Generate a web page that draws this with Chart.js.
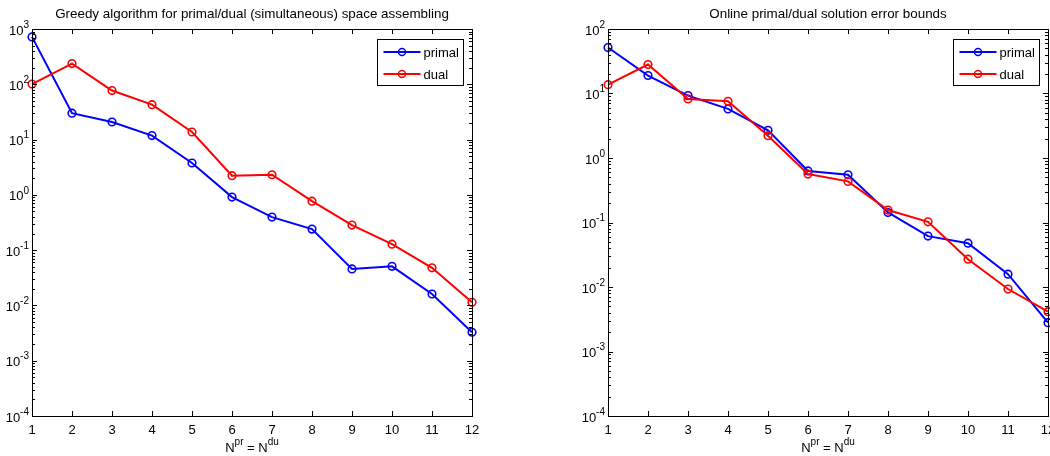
<!DOCTYPE html>
<html>
<head>
<meta charset="utf-8">
<script src="https://cdn.jsdelivr.net/npm/chart.js@4"></script>
<style>
  html, body { margin: 0; padding: 0; background: #fff; overflow: hidden; width: 1050px; height: 456px; }
  .box { position: absolute; top: 0; }
</style>
</head>
<body>
<div class="box" style="left:0px"><canvas id="greedy" width="540" height="456"></canvas></div>
<div class="box" style="left:560px"><canvas id="online" width="560" height="456"></canvas></div>
<script>
// N^pr = N^du
const nValues = [1, 2, 3, 4, 5, 6, 7, 8, 9, 10, 11, 12];

// left plot: greedy space assembling
const greedyPrimal = [720, 30, 20.8, 11.8, 3.77, 0.91, 0.396, 0.24, 0.0458, 0.051, 0.0161, 0.00327];
const greedyDual = [101, 237, 77, 42.8, 13.7, 2.22, 2.31, 0.77, 0.284, 0.128, 0.0478, 0.0114];

// right plot: online error bounds
const onlinePrimal = [51.6, 19, 9.27, 5.77, 2.69, 0.63, 0.55, 0.143, 0.0615, 0.0478, 0.0158, 0.0028];
const onlineDual = [13.7, 28.1, 8.24, 7.57, 2.22, 0.564, 0.434, 0.156, 0.1025, 0.027, 0.0093, 0.00415];

const xTicks = [1, 2, 3, 4, 5, 6, 7, 8, 9, 10, 11, 12];
const greedyExps = [-4, -3, -2, -1, 0, 1, 2, 3];
const onlineExps = [-4, -3, -2, -1, 0, 1, 2];

const FONT = '"Liberation Sans", Arial, Helvetica, sans-serif';

// draw text made of normal + superscript pieces
function drawParts(ctx, parts, x, y, align) {
  let w = 0;
  parts.forEach(p => {
    ctx.font = (p.sup ? 10 : 13) + 'px ' + FONT;
    p.w = ctx.measureText(p.t).width;
    w += p.w;
  });
  let cx = align === 'right' ? x - w : (align === 'center' ? x - w / 2 : x);
  ctx.textAlign = 'left';
  ctx.textBaseline = 'middle';
  parts.forEach(p => {
    ctx.font = (p.sup ? 10 : 13) + 'px ' + FONT;
    ctx.fillText(p.t, cx, p.sup ? y - 6 : y);
    cx += p.w;
  });
}

const matlabAxes = {
  id: 'matlabAxes',
  afterDatasetsDraw(chart, args, opts) {
    const ctx = chart.ctx;
    const a = chart.chartArea;
    const xs = chart.scales.x;
    const ys = chart.scales.y;
    ctx.save();
    ctx.strokeStyle = '#000';
    ctx.fillStyle = '#000';
    ctx.lineWidth = 1;

    // box
    ctx.strokeRect(Math.round(a.left) + 0.5, Math.round(a.top) + 0.5,
      Math.round(a.right - a.left), Math.round(a.bottom - a.top));

    ctx.beginPath();
    // x ticks, top and bottom, inward
    xTicks.forEach(v => {
      const px = Math.round(xs.getPixelForValue(v)) + 0.5;
      ctx.moveTo(px, a.bottom); ctx.lineTo(px, a.bottom - 5);
      ctx.moveTo(px, a.top); ctx.lineTo(px, a.top + 5);
    });
    // y ticks, major and minor, left and right
    const exps = opts.exps;
    exps.forEach((e, i) => {
      const py = Math.round(ys.getPixelForValue(Math.pow(10, e))) + 0.5;
      ctx.moveTo(a.left, py); ctx.lineTo(a.left + 5, py);
      ctx.moveTo(a.right, py); ctx.lineTo(a.right - 5, py);
      if (i < exps.length - 1) {
        for (let k = 2; k <= 9; k++) {
          const my = Math.round(ys.getPixelForValue(k * Math.pow(10, e))) + 0.5;
          ctx.moveTo(a.left, my); ctx.lineTo(a.left + 3, my);
          ctx.moveTo(a.right, my); ctx.lineTo(a.right - 3, my);
        }
      }
    });
    ctx.stroke();

    // tick labels
    ctx.font = '13px ' + FONT;
    ctx.textAlign = 'center';
    ctx.textBaseline = 'middle';
    xTicks.forEach(v => {
      ctx.fillText(String(v), xs.getPixelForValue(v), a.bottom + 14);
    });
    exps.forEach(e => {
      const py = ys.getPixelForValue(Math.pow(10, e));
      drawParts(ctx, [{ t: '10' }, { t: String(e), sup: true }], a.left - 3, py + 2, 'right');
    });

    // x label
    drawParts(ctx, [{ t: 'N' }, { t: 'pr', sup: true }, { t: ' = N' }, { t: 'du', sup: true }],
      (a.left + a.right) / 2, a.bottom + 32, 'center');

    // title
    ctx.font = '13.4px ' + FONT;
    ctx.textAlign = 'center';
    ctx.fillText(opts.title, (a.left + a.right) / 2, a.top - 15);

    // legend
    const lw = 86, lh = 46;
    const lx = Math.round(a.right - 9 - lw) + 0.5, ly = Math.round(a.top + 10) + 0.5;
    ctx.fillStyle = '#fff';
    ctx.fillRect(lx, ly, lw, lh);
    ctx.strokeStyle = '#000';
    ctx.strokeRect(lx, ly, lw, lh);
    chart.data.datasets.forEach((ds, i) => {
      const yy = ly + 12.5 + i * 22;
      ctx.strokeStyle = ds.borderColor;
      ctx.lineWidth = 2;
      ctx.beginPath();
      ctx.moveTo(lx + 6, yy); ctx.lineTo(lx + 43, yy);
      ctx.stroke();
      ctx.lineWidth = 1.5;
      ctx.beginPath();
      ctx.arc(lx + 24.5, yy, 3.5, 0, Math.PI * 2);
      ctx.stroke();
      ctx.fillStyle = '#000';
      ctx.font = '13px ' + FONT;
      ctx.textAlign = 'left';
      ctx.fillText(ds.label, lx + 46, yy + 1);
    });
    ctx.restore();
  }
};

function makeDataset(label, values, color, order) {
  return {
    label: label,
    data: nValues.map((n, i) => ({ x: n, y: values[i] })),
    borderColor: color,
    backgroundColor: color,
    borderWidth: 2,
    pointRadius: 3.8,
    pointBorderWidth: 1.6,
    pointBackgroundColor: 'rgba(0,0,0,0)',
    pointBorderColor: color,
    tension: 0,
    clip: false,
    order: order
  };
}

function makeChart(id, title, primal, dual, exps, padding) {
  return new Chart(document.getElementById(id), {
    type: 'line',
    data: {
      datasets: [
        makeDataset('primal', primal, '#0000ff', 1),
        makeDataset('dual', dual, '#ff0000', 0)
      ]
    },
    options: {
      responsive: false,
      animation: false,
      devicePixelRatio: 1,
      layout: { padding: padding },
      plugins: {
        legend: { display: false },
        title: { display: false },
        tooltip: { enabled: false },
        matlabAxes: { title: title, exps: exps }
      },
      scales: {
        x: { type: 'linear', min: 1, max: 12, display: false },
        y: { type: 'logarithmic', min: Math.pow(10, exps[0]), max: Math.pow(10, exps[exps.length - 1]), display: false }
      }
    },
    plugins: [matlabAxes]
  });
}

makeChart('greedy', 'Greedy algorithm for primal/dual (simultaneous) space assembling',
  greedyPrimal, greedyDual, greedyExps, { left: 32, top: 29, right: 68, bottom: 40 });
makeChart('online', 'Online primal/dual solution error bounds',
  onlinePrimal, onlineDual, onlineExps, { left: 48, top: 29, right: 72, bottom: 40 });
</script>
</body>
</html>
